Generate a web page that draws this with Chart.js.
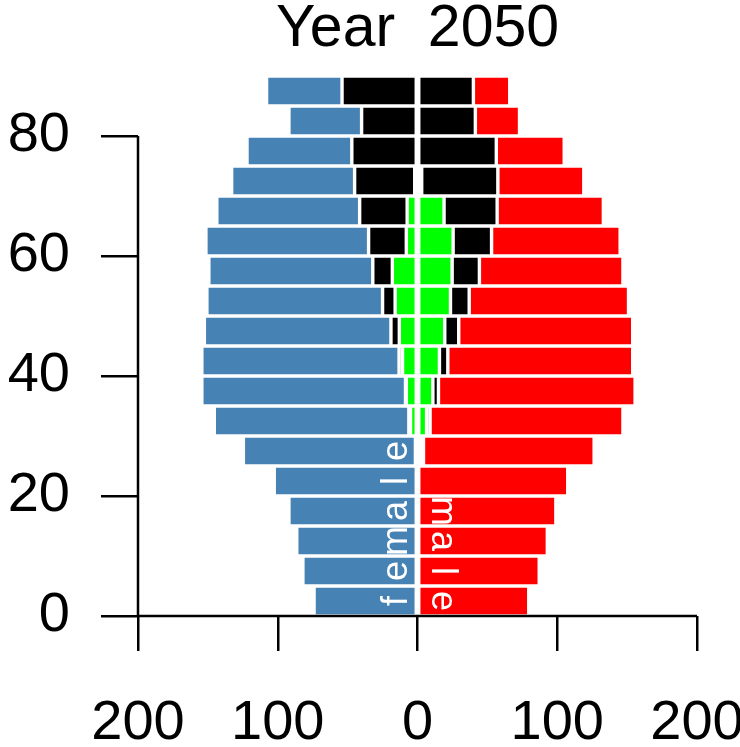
<!DOCTYPE html>
<html>
<head>
<meta charset="utf-8">
<title>Year 2050</title>
<script src="https://cdn.jsdelivr.net/npm/chart.js@4.4.1/dist/chart.umd.min.js"></script>
<style>
  html, body { margin: 0; padding: 0; background: #fff; }
  #pyramid { display: block; }
</style>
</head>
<body>
<canvas id="pyramid" width="740" height="747"></canvas>
<script>
// ── Data ────────────────────────────────────────────────────
// age groups (lower bound of each 5-year band), bottom to top
const ages = [0, 5, 10, 15, 20, 25, 30, 35, 40, 45, 50, 55, 60, 65, 70, 75, 80, 85];

// female side: whole bar, black part, green part (green sits next to 0)
const femaleTotal = [74, 82, 86.4, 92, 102.5, 124.6, 145.4, 154.3, 154.3, 152.5, 150.7, 149.3, 151.4, 143.6, 133, 122, 92, 108];
const femaleBlack = [0, 0, 0, 0, 0, 0.5, 1.2, 0.6, 2.5, 6, 9, 14, 27, 34, 43, 47, 40, 54];
const femaleGreen = [0, 0, 0, 0, 0, 1, 5, 8, 10.7, 13, 16, 18, 8, 7.4, 2, 0, 0, 0];

// male side
const maleTotal = [79.6, 87.1, 92.9, 99, 107.5, 126.4, 147, 155.7, 154, 154, 151, 147, 145, 133, 119, 105, 73, 66];
const maleBlack = [0, 0, 0, 0, 0, 1.3, 2.5, 4, 6, 10, 13.4, 19.5, 27.5, 38, 54.5, 56.4, 41.4, 40];
const maleGreen = [0, 0, 0, 0, 0, 3, 6.5, 11, 15.7, 19.5, 23.6, 24.8, 25.5, 19, 3, 0, 0, 0];

const xTicks = [-200, -100, 0, 100, 200];
const yTicks = [0, 20, 40, 60, 80];

// one letter per age band, from the bottom up
const femaleLetters = ['f', 'e', 'm', 'a', 'l', 'e'];
const maleLetters = ['e', 'l', 'a', 'm'];

const COLORS = { female: '#4682b4', male: '#ff0000', black: '#000000', green: '#00ff00' };
const FONT = '"Liberation Sans", Arial, Helvetica, sans-serif';

// ── Helpers ─────────────────────────────────────────────────
function outer(total, black, green) {
    return total.map((t, i) => t - black[i] - green[i]);
}

function band(values, sign) {
    return ages.map((a, i) => ({ y: a + 2.5, x: sign * values[i] }));
}

function segment(label, values, sign, color) {
    return {
        label,
        data: band(values, sign),
        backgroundColor: color,
        borderColor: '#ffffff',
        borderWidth: 1.7,
        borderSkipped: false,
        inflateAmount: 0,
        barPercentage: 1,
        categoryPercentage: 1,
        stack: 'pop',
    };
}

// ── R-style axis lines + side labels ────────────────────────
const rAxes = {
    id: 'rAxes',
    afterDatasetsDraw(chart) {
        const { ctx, scales: { x, y } } = chart;
        const x0 = x.getPixelForValue(0);

        ctx.save();
        ctx.fillStyle = '#ffffff';
        ctx.font = `36px ${FONT}`;
        ctx.textAlign = 'center';
        ctx.textBaseline = 'alphabetic';
        femaleLetters.forEach((ch, i) => {
            ctx.save();
            ctx.translate(x0 - 10.5, y.getPixelForValue(ages[i] + 2.5));
            ctx.rotate(-Math.PI / 2);
            ctx.fillText(ch, 0, 0);
            ctx.restore();
        });
        maleLetters.forEach((ch, i) => {
            ctx.save();
            ctx.translate(x0 + 14.5, y.getPixelForValue(ages[i] + 2.5));
            ctx.rotate(Math.PI / 2);
            ctx.fillText(ch, 0, 0);
            ctx.restore();
        });
        ctx.restore();
    },
    afterDraw(chart) {
        const { ctx, scales: { x, y } } = chart;
        ctx.save();
        ctx.strokeStyle = '#000';
        ctx.lineWidth = 2.5;
        ctx.beginPath();
        ctx.moveTo(x.left, y.getPixelForValue(yTicks[0]));
        ctx.lineTo(x.left, y.getPixelForValue(yTicks[yTicks.length - 1]));
        ctx.moveTo(x.getPixelForValue(xTicks[0]), y.bottom);
        ctx.lineTo(x.getPixelForValue(xTicks[xTicks.length - 1]), y.bottom);
        ctx.stroke();
        ctx.restore();
    }
};

// ── Chart ───────────────────────────────────────────────────
function initPyramid() {
    const canvas = document.getElementById('pyramid');
    const tickFont = { family: FONT, size: 56 };

    new Chart(canvas, {
        type: 'bar',
        data: {
            datasets: [
                segment('female green', femaleGreen, -1, COLORS.green),
                segment('female black', femaleBlack, -1, COLORS.black),
                segment('female', outer(femaleTotal, femaleBlack, femaleGreen), -1, COLORS.female),
                segment('male green', maleGreen, 1, COLORS.green),
                segment('male black', maleBlack, 1, COLORS.black),
                segment('male', outer(maleTotal, maleBlack, maleGreen), 1, COLORS.male),
            ]
        },
        options: {
            indexAxis: 'y',
            responsive: false,
            devicePixelRatio: 1,
            animation: false,
            events: [],
            layout: { padding: { left: 0, right: 43, top: 0, bottom: 0 } },
            scales: {
                x: {
                    type: 'linear',
                    min: -200,
                    max: 200,
                    stacked: true,
                    afterBuildTicks: s => { s.ticks = xTicks.map(v => ({ value: v })); },
                    afterFit: s => { s.height = 131; s.paddingLeft = 0; s.paddingRight = 0; },
                    ticks: {
                        callback: v => Math.abs(v),
                        font: tickFont,
                        color: '#000',
                        padding: 39,
                        maxRotation: 0,
                        autoSkip: false
                    },
                    grid: { display: true, drawOnChartArea: false, drawTicks: true, tickLength: 35, color: '#000', lineWidth: 2.5 },
                    border: { display: false }
                },
                y: {
                    type: 'linear',
                    min: 0,
                    max: 90,
                    offset: false,
                    stacked: true,
                    afterBuildTicks: s => { s.ticks = yTicks.map(v => ({ value: v })); },
                    afterFit: s => { s.width = 138; s.paddingTop = 0; s.paddingBottom = 0; },
                    ticks: {
                        font: tickFont,
                        color: '#000',
                        padding: 31,
                        autoSkip: false
                    },
                    grid: { display: true, offset: false, drawOnChartArea: false, drawTicks: true, tickLength: 37, color: '#000', lineWidth: 2.5 },
                    border: { display: false }
                }
            },
            plugins: {
                legend: { display: false },
                tooltip: { enabled: false },
                title: {
                    display: true,
                    text: 'Year  2050',
                    fullSize: false,
                    color: '#000',
                    font: { family: FONT, size: 59, weight: 'normal', lineHeight: 1 },
                    padding: { top: 0, bottom: 17 }
                }
            }
        },
        plugins: [rAxes]
    });
}

document.addEventListener('DOMContentLoaded', () => {
    initPyramid();
});
</script>
</body>
</html>
